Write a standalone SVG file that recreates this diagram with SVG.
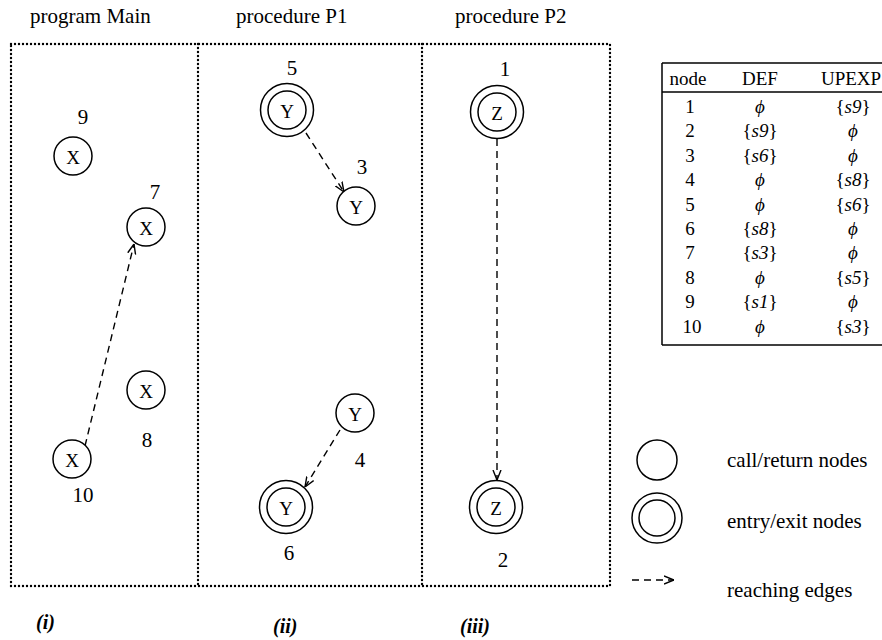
<svg xmlns="http://www.w3.org/2000/svg" width="882" height="640" viewBox="0 0 882 640" font-family="'Liberation Serif', 'DejaVu Serif', 'Times New Roman', serif">
<style>
  text { font-family: 'Liberation Serif', 'DejaVu Serif', 'Times New Roman', serif; fill: #000; }
  .hd { font-size: 21px; }
  .lbl { font-size: 21px; text-anchor: middle; }
  .var { font-size: 19px; text-anchor: middle; dominant-baseline: central; }
  .tb { font-size: 19px; text-anchor: middle; }
  .it { font-style: italic; }
  .cap { font-size: 20px; font-style: italic; font-weight: bold; }
  .dot { fill: none; stroke: #000; stroke-width: 2.4; stroke-dasharray: 0 4; stroke-linecap: round; }
  .node { fill: #fff; stroke: #000; stroke-width: 1.5; }
  .edge { fill: none; stroke: #000; stroke-width: 1.4; stroke-dasharray: 7 5; }
  .rule { stroke: #000; stroke-width: 1.5; }
</style>
<defs>
  <marker id="ah" viewBox="0 0 10 10" refX="10" refY="5" markerWidth="10" markerHeight="10" markerUnits="userSpaceOnUse" orient="auto">
    <path d="M0,1 L10,5 L0,9" fill="none" stroke="#000" stroke-width="1.4"/>
  </marker>
</defs>
<rect width="882" height="640" fill="#fff"/>

<!-- headings -->
<text class="hd" x="30" y="23">program Main</text>
<text class="hd" x="236" y="23">procedure P1</text>
<text class="hd" x="455" y="23">procedure P2</text>

<!-- dotted frame -->
<g id="frame">
  <rect class="dot" x="11" y="44" width="599" height="542"/>
  <line class="dot" x1="198" y1="44" x2="198" y2="586"/>
  <line class="dot" x1="422" y1="44" x2="422" y2="586"/>
</g>

<!-- connectors -->
<g id="edges">
  <line class="edge" x1="85" y1="446" x2="134" y2="244" marker-end="url(#ah)"/>
  <line class="edge" x1="306" y1="133" x2="344" y2="192" marker-end="url(#ah)"/>
  <line class="edge" x1="340" y1="430" x2="305" y2="487" marker-end="url(#ah)"/>
  <line class="edge" x1="497" y1="139" x2="497" y2="480" marker-end="url(#ah)"/>
</g>

<!-- program Main nodes -->
<g id="n9">
  <circle class="node" cx="73" cy="156" r="19"/>
  <text class="var" x="73" y="157">X</text>
  <text class="lbl" x="83" y="124">9</text>
</g>
<g id="n7">
  <circle class="node" cx="146" cy="227" r="19"/>
  <text class="var" x="146" y="228">X</text>
  <text class="lbl" x="155" y="199">7</text>
</g>
<g id="n8">
  <circle class="node" cx="146" cy="390" r="19"/>
  <text class="var" x="146" y="391">X</text>
  <text class="lbl" x="147" y="447">8</text>
</g>
<g id="n10">
  <circle class="node" cx="72" cy="459" r="19"/>
  <text class="var" x="72" y="460">X</text>
  <text class="lbl" x="83" y="502">10</text>
</g>

<!-- procedure P1 nodes -->
<g id="n5">
  <circle class="node" cx="287" cy="110" r="26.5"/>
  <circle class="node" cx="287" cy="110" r="19"/>
  <text class="var" x="287" y="111">Y</text>
  <text class="lbl" x="292" y="75">5</text>
</g>
<g id="n3">
  <circle class="node" cx="356" cy="206" r="19"/>
  <text class="var" x="356" y="207">Y</text>
  <text class="lbl" x="362" y="174">3</text>
</g>
<g id="n4">
  <circle class="node" cx="355" cy="413" r="19"/>
  <text class="var" x="355" y="414">Y</text>
  <text class="lbl" x="360" y="467">4</text>
</g>
<g id="n6">
  <circle class="node" cx="286" cy="507" r="26.5"/>
  <circle class="node" cx="286" cy="507" r="19"/>
  <text class="var" x="286" y="508">Y</text>
  <text class="lbl" x="289" y="560">6</text>
</g>

<!-- procedure P2 nodes -->
<g id="n1">
  <circle class="node" cx="497" cy="112" r="26.5"/>
  <circle class="node" cx="497" cy="112" r="19"/>
  <text class="var" x="497" y="113">Z</text>
  <text class="lbl" x="505" y="76">1</text>
</g>
<g id="n2">
  <circle class="node" cx="496" cy="507" r="26.5"/>
  <circle class="node" cx="496" cy="507" r="19"/>
  <text class="var" x="496" y="508">Z</text>
  <text class="lbl" x="503" y="567">2</text>
</g>

<!-- captions -->
<text class="cap" x="36" y="629">(i)</text>
<text class="cap" x="273" y="633">(ii)</text>
<text class="cap" x="460" y="633">(iii)</text>

<!-- table -->
<g id="table">
  <line class="rule" x1="662" y1="63" x2="882" y2="63"/>
  <line class="rule" x1="662" y1="92" x2="882" y2="92"/>
  <line class="rule" x1="662" y1="345" x2="882" y2="345"/>
  <line class="rule" x1="662" y1="63" x2="662" y2="345"/>
  <text class="tb" x="688" y="85">node</text>
  <text class="tb" x="760" y="85">DEF</text>
  <text class="tb" x="851" y="85">UPEXP</text>

  <text class="tb" x="690" y="113">1</text>
  <text class="tb it" x="760" y="113">ϕ</text>
  <text class="tb" x="853" y="113">{<tspan class="it">s9</tspan>}</text>

  <text class="tb" x="690" y="137.4">2</text>
  <text class="tb" x="760" y="137.4">{<tspan class="it">s9</tspan>}</text>
  <text class="tb it" x="853" y="137.4">ϕ</text>

  <text class="tb" x="690" y="161.8">3</text>
  <text class="tb" x="760" y="161.8">{<tspan class="it">s6</tspan>}</text>
  <text class="tb it" x="853" y="161.8">ϕ</text>

  <text class="tb" x="690" y="186.2">4</text>
  <text class="tb it" x="760" y="186.2">ϕ</text>
  <text class="tb" x="853" y="186.2">{<tspan class="it">s8</tspan>}</text>

  <text class="tb" x="690" y="210.6">5</text>
  <text class="tb it" x="760" y="210.6">ϕ</text>
  <text class="tb" x="853" y="210.6">{<tspan class="it">s6</tspan>}</text>

  <text class="tb" x="690" y="235">6</text>
  <text class="tb" x="760" y="235">{<tspan class="it">s8</tspan>}</text>
  <text class="tb it" x="853" y="235">ϕ</text>

  <text class="tb" x="690" y="259.4">7</text>
  <text class="tb" x="760" y="259.4">{<tspan class="it">s3</tspan>}</text>
  <text class="tb it" x="853" y="259.4">ϕ</text>

  <text class="tb" x="690" y="283.8">8</text>
  <text class="tb it" x="760" y="283.8">ϕ</text>
  <text class="tb" x="853" y="283.8">{<tspan class="it">s5</tspan>}</text>

  <text class="tb" x="690" y="308.2">9</text>
  <text class="tb" x="760" y="308.2">{<tspan class="it">s1</tspan>}</text>
  <text class="tb it" x="853" y="308.2">ϕ</text>

  <text class="tb" x="692" y="332.6">10</text>
  <text class="tb it" x="760" y="332.6">ϕ</text>
  <text class="tb" x="853" y="332.6">{<tspan class="it">s3</tspan>}</text>
</g>

<!-- legend -->
<g id="legend">
  <circle class="node" cx="657" cy="460" r="20"/>
  <text class="hd" x="727" y="467">call/return nodes</text>
  <circle class="node" cx="657" cy="518" r="25"/>
  <circle class="node" cx="657" cy="518" r="18"/>
  <text class="hd" x="727" y="528">entry/exit nodes</text>
  <line class="edge" x1="632" y1="580" x2="674" y2="580" marker-end="url(#ah)"/>
  <text class="hd" x="727" y="597">reaching edges</text>
</g>
</svg>
